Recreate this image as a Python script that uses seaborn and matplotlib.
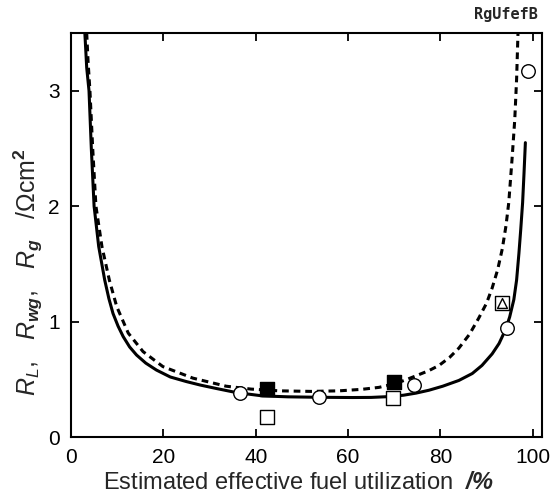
import matplotlib
matplotlib.use("Agg")
import matplotlib.pyplot as plt
import seaborn as sns
import pandas as pd

# ---- data ----
solid_x = [3.0, 3.4, 3.9, 4.4, 5.0, 6.0, 7.3, 8.2, 9.1, 10.2, 11.3, 12.7, 14.2, 16.2, 18.5, 21.5, 25.0, 28.0,
           31.5, 35.8, 41.5, 47.0, 53.8, 61.0, 65.0, 68.9, 72.0, 74.7, 77.5, 80.5, 84.0, 86.9, 89.0, 91.2,
           92.7, 94.1, 95.0, 95.9, 96.5, 97.0, 97.4, 97.8, 98.1, 98.4]
solid_y = [3.5, 3.2, 3.0, 2.5, 2.0, 1.65, 1.36, 1.2, 1.07, 0.96, 0.87, 0.78, 0.71, 0.64, 0.58, 0.52, 0.48, 0.45,
           0.42, 0.385, 0.356, 0.348, 0.344, 0.342, 0.343, 0.35, 0.362, 0.38, 0.405, 0.44, 0.49, 0.55, 0.62, 0.72,
           0.81, 0.93, 1.04, 1.19, 1.36, 1.59, 1.8, 2.03, 2.28, 2.55]

dash_x = [3.4, 3.7, 4.1, 4.7, 5.4, 6.7, 8.3, 9.9, 12.4, 15.6, 19.9, 26.4, 33.6, 39.0, 45.1, 52.0, 58.1, 63.0,
          66.7, 70.0, 72.5, 74.7, 77.5, 79.7, 82.0, 84.0, 86.3, 88.3, 90.0, 91.2, 92.4, 93.4, 94.2, 94.8,
          95.5, 96.1, 96.5, 96.8]
dash_y = [3.5, 3.25, 3.0, 2.5, 2.0, 1.65, 1.36, 1.13, 0.90, 0.74, 0.61, 0.51, 0.44, 0.415, 0.40, 0.395, 0.40, 0.413,
          0.43, 0.46, 0.495, 0.53, 0.575, 0.62, 0.69, 0.77, 0.89, 1.03, 1.16, 1.29, 1.45, 1.63, 1.83, 2.03,
          2.40, 2.75, 3.1, 3.5]

circ_x = [36.7, 53.8, 74.2, 94.4, 99.0]
circ_y = [0.38, 0.35, 0.45, 0.94, 3.17]

fsq_x = [42.5, 70.0]
fsq_y = [0.42, 0.48]

osq_x = [42.5, 69.8]
osq_y = [0.17, 0.34]

tri_x = [93.3]
tri_y = [1.16]

x_ticks = [0, 20, 40, 60, 80, 100]
y_ticks = [0, 1, 2, 3]

sns.set_style("ticks")
plt.rcParams['font.family'] = ['Liberation Sans', 'DejaVu Sans']
plt.rcParams['mathtext.fontset'] = 'custom'
plt.rcParams['mathtext.rm'] = 'Liberation Sans'
plt.rcParams['mathtext.it'] = 'Liberation Sans:italic'
plt.rcParams['mathtext.bf'] = 'Liberation Sans:bold'
plt.rcParams['mathtext.bfit'] = 'Liberation Sans:bold:italic'

fig = plt.figure(figsize=(5.52, 4.98), dpi=100)
ax = fig.add_axes([71/552, 1-437/498, (542-71)/552, (437-33)/498])

sdf = pd.DataFrame({"x": solid_x, "y": solid_y})
ddf = pd.DataFrame({"x": dash_x, "y": dash_y})
sns.lineplot(data=sdf, x="x", y="y", ax=ax, color="black", lw=2.2, sort=False, estimator=None)
sns.lineplot(data=ddf, x="x", y="y", ax=ax, color="black", lw=2.2, sort=False, estimator=None,
             linestyle=(0, (2.2, 1.6)))

ms = 95
sns.scatterplot(x=circ_x, y=circ_y, ax=ax, marker="o", s=ms, facecolor="white", edgecolor="black", linewidth=1.0, zorder=5)
sns.scatterplot(x=fsq_x, y=fsq_y, ax=ax, marker="s", s=ms, facecolor="black", edgecolor="black", linewidth=1.0, zorder=5)
sns.scatterplot(x=osq_x, y=osq_y, ax=ax, marker="s", s=ms, facecolor="white", edgecolor="black", linewidth=1.0, zorder=5)
sns.scatterplot(x=tri_x, y=tri_y, ax=ax, marker="s", s=ms, facecolor="white", edgecolor="black", linewidth=1.0, zorder=5)
sns.scatterplot(x=tri_x, y=tri_y, ax=ax, marker="^", s=50, facecolor="white", edgecolor="black", linewidth=1.0, zorder=6)

ax.set_xlim(0, 102)
ax.set_ylim(0, 3.5)
ax.set_xticks(x_ticks)
ax.set_yticks(y_ticks)
ax.tick_params(direction="in", length=6, width=1.3, top=True, right=True, labelsize=15, pad=8, colors="black")
for s in ax.spines.values():
    s.set_linewidth(1.5)
    s.set_color("black")

ax.set_xlabel(r"Estimated effective fuel utilization  $\mathbfit{/\%}$", fontsize=17)
ax.xaxis.set_label_coords((299 - 71) / 471, -(483 - 437) / 404)
ax.set_ylabel(r"$R_{\mathit{L}}$,   $R_{\mathbfit{wg}}$,   $R_{\mathbfit{g}}$   /$\Omega$cm$^{\mathbf{2}}$", fontsize=18)
ax.yaxis.set_label_coords(-(71 - 28) / 471, (437 - 272) / 404)
ax.yaxis.label.set_va("center")
ax.xaxis.label.set_va("center")

fig.text(506/552, 1-15/498, "RgUfefB", ha="center", va="center", fontsize=11, fontweight="bold",
         family=["DejaVu Sans Mono"])

fig.savefig("out.png", dpi=100)
